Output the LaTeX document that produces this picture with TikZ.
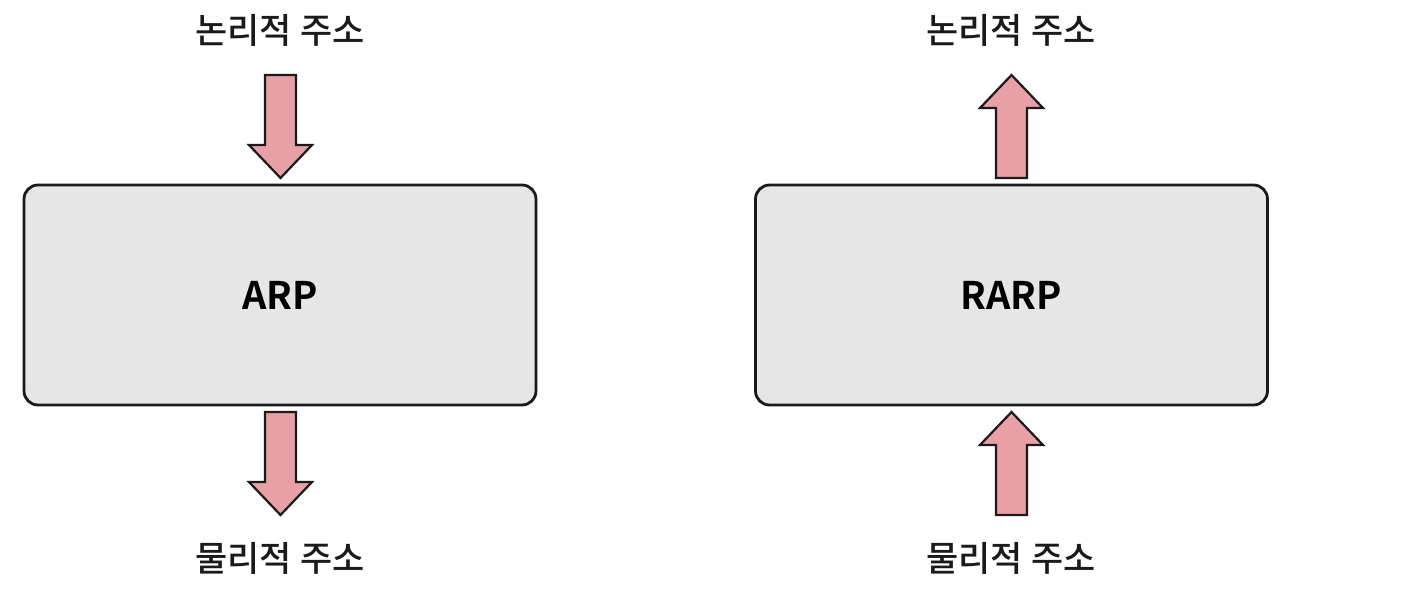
\documentclass[tikz,border=0pt]{standalone}
\usepackage{fontspec}
\newfontfamily\kr{Noto Sans CJK KR Medium}
\newfontfamily\krb{Noto Sans CJK KR Bold}
\definecolor{boxfill}{HTML}{E6E6E6}
\definecolor{arrowfill}{HTML}{E8A0A6}
\definecolor{ink}{HTML}{1A1A1A}
\tikzset{
  procbox/.style={draw=ink, line width=2.8pt, fill=boxfill, rounded corners=14pt, minimum width=512pt, minimum height=220pt, inner sep=0pt, font=\krb\fontsize{38pt}{44pt}\selectfont},
  lbl/.style={font=\kr\fontsize{35pt}{40pt}\selectfont, text=ink, inner sep=0pt},
  blockarrow/.style={draw=ink, line width=2.2pt, fill=arrowfill, line join=miter}
}
\begin{document}
\begin{tikzpicture}[x=1pt,y=-1pt]
\useasboundingbox (0,0) rectangle (1422,592);
\fill[white] (0,0) rectangle (1422,592);
% boxes
\node[procbox] (arp) at (280,295) {ARP};
\node[procbox] (rarp) at (1011.5,295) {RARP};
% labels
\node[lbl] (lt) at (280,30) {논리적 주소};
\node[lbl] (lb) at (280,558) {물리적 주소};
\node[lbl] (rt) at (1011,30) {논리적 주소};
\node[lbl] (rb) at (1011,558) {물리적 주소};
% down arrows (left)
\draw[blockarrow] (265,75) -- (296,75) -- (296,145) -- (312,145) -- (280.5,178) -- (249,145) -- (265,145) -- cycle;
\draw[blockarrow] (265,412) -- (296,412) -- (296,482) -- (312,482) -- (280.5,515) -- (249,482) -- (265,482) -- cycle;
% up arrows (right)
\draw[blockarrow] (996,178) -- (1027,178) -- (1027,108) -- (1043,108) -- (1011.5,75) -- (980,108) -- (996,108) -- cycle;
\draw[blockarrow] (996,515) -- (1027,515) -- (1027,445) -- (1043,445) -- (1011.5,412) -- (980,445) -- (996,445) -- cycle;
\end{tikzpicture}
\end{document}
